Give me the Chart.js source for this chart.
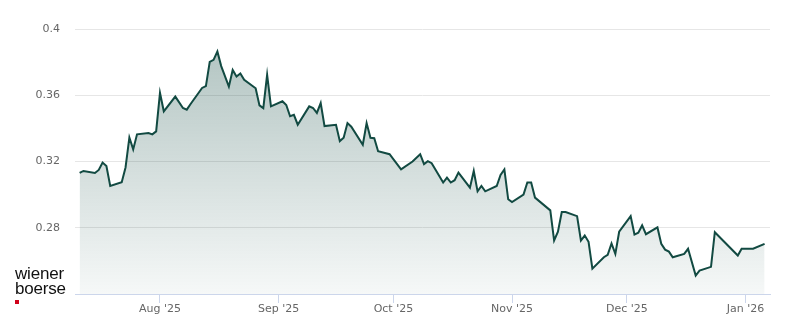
<!DOCTYPE html>
<html>
<head>
<meta charset="utf-8">
<script src="https://cdn.jsdelivr.net/npm/chart.js@4"></script>
<style>
  html, body { margin: 0; padding: 0; background: #fff; }
  #wrap { position: relative; width: 800px; height: 324px; }
  #logo {
    position: absolute; left: 15px; top: 266px;
    font-family: "Liberation Sans", Arial, sans-serif; font-size: 17px;
    line-height: 15px; color: #111; letter-spacing: -0.2px;
  }
  #logo .dot { width: 4px; height: 4px; background: #d0021b; margin-top: 4px; }
</style>
</head>
<body>
<div id="wrap">
  <canvas id="priceChart" width="800" height="324"></canvas>
  <div id="logo">wiener<br>boerse<div class="dot"></div></div>
</div>
<script>
// closing prices (only the turning points of the line)
var dates = [
    '2025-07-11', '2025-07-12', '2025-07-15', '2025-07-16', '2025-07-17', '2025-07-18', '2025-07-19',
    '2025-07-22', '2025-07-23', '2025-07-24', '2025-07-25', '2025-07-26', '2025-07-29', '2025-07-30',
    '2025-07-31', '2025-08-01', '2025-08-02', '2025-08-05', '2025-08-07', '2025-08-08', '2025-08-09',
    '2025-08-12', '2025-08-13', '2025-08-14', '2025-08-15', '2025-08-16', '2025-08-17', '2025-08-19',
    '2025-08-20', '2025-08-21', '2025-08-22', '2025-08-23', '2025-08-26', '2025-08-27', '2025-08-28',
    '2025-08-29', '2025-08-30', '2025-09-02', '2025-09-03', '2025-09-04', '2025-09-05', '2025-09-06',
    '2025-09-09', '2025-09-10', '2025-09-11', '2025-09-12', '2025-09-13', '2025-09-16', '2025-09-17',
    '2025-09-18', '2025-09-19', '2025-09-20', '2025-09-23', '2025-09-24', '2025-09-25', '2025-09-26',
    '2025-09-27', '2025-09-30', '2025-10-03', '2025-10-06', '2025-10-08', '2025-10-09', '2025-10-10',
    '2025-10-11', '2025-10-14', '2025-10-15', '2025-10-16', '2025-10-17', '2025-10-18', '2025-10-21',
    '2025-10-22', '2025-10-23', '2025-10-24', '2025-10-25', '2025-10-28', '2025-10-29', '2025-10-30',
    '2025-10-31', '2025-11-01', '2025-11-04', '2025-11-05', '2025-11-06', '2025-11-07', '2025-11-11',
    '2025-11-12', '2025-11-13', '2025-11-14', '2025-11-15', '2025-11-18', '2025-11-19', '2025-11-20',
    '2025-11-21', '2025-11-22', '2025-11-25', '2025-11-26', '2025-11-27', '2025-11-28', '2025-11-29',
    '2025-12-02', '2025-12-03', '2025-12-04', '2025-12-05', '2025-12-06', '2025-12-09', '2025-12-10',
    '2025-12-11', '2025-12-12', '2025-12-13', '2025-12-16', '2025-12-17', '2025-12-19', '2025-12-20',
    '2025-12-23', '2025-12-24', '2025-12-30', '2025-12-31', '2026-01-03', '2026-01-06'
];
var prices = [
    0.3131, 0.3143, 0.3131, 0.3149, 0.3194, 0.3173, 0.3052,
    0.3075, 0.3164, 0.3345, 0.3273, 0.3364, 0.3372, 0.3364,
    0.3382, 0.3614, 0.3503, 0.3592, 0.3523, 0.3513, 0.3547,
    0.3644, 0.3655, 0.3802, 0.3814, 0.3864, 0.3776, 0.3652,
    0.3753, 0.3713, 0.3731, 0.3693, 0.3642, 0.3539, 0.3522,
    0.3723, 0.3533, 0.3564, 0.3541, 0.3473, 0.3482, 0.3422,
    0.3533, 0.3523, 0.3493, 0.3553, 0.3414, 0.3422, 0.3323,
    0.3343, 0.3432, 0.3410, 0.3301, 0.3432, 0.3343, 0.3341,
    0.3262, 0.3244, 0.3153, 0.3200, 0.3244, 0.3184, 0.3202,
    0.3190, 0.3073, 0.3103, 0.3073, 0.3087, 0.3133, 0.3042,
    0.3143, 0.3020, 0.3052, 0.3020, 0.3052, 0.3119, 0.3152,
    0.2972, 0.2955, 0.3000, 0.3073, 0.3073, 0.2982, 0.2905,
    0.2723, 0.2776, 0.2895, 0.2895, 0.2870, 0.2723, 0.2753,
    0.2715, 0.2553, 0.2622, 0.2636, 0.2705, 0.2642, 0.2776,
    0.2870, 0.2759, 0.2770, 0.2814, 0.2761, 0.2802, 0.2703,
    0.2668, 0.2656, 0.2622, 0.2642, 0.2673, 0.2511, 0.2541,
    0.2564, 0.2773, 0.2632, 0.2673, 0.2673, 0.2703
];
var monthTicks = ['2025-08-01', '2025-09-01', '2025-10-01', '2025-11-01', '2025-12-01', '2026-01-01'];
var monthNames = ['Jan', 'Feb', 'Mar', 'Apr', 'May', 'Jun', 'Jul', 'Aug', 'Sep', 'Oct', 'Nov', 'Dec'];
var yTicks = [0.24, 0.28, 0.32, 0.36, 0.4];

var lineColor = '#124a42';

function toTime(s) {
    return Date.parse(s + 'T00:00:00Z');
}

var points = dates.map(function (d, i) {
    return { x: toTime(d), y: prices[i] };
});

function fillGradient(context) {
    var chart = context.chart;
    var area = chart.chartArea;
    if (!area) return 'rgba(18,74,66,0.2)';
    var g = chart.ctx.createLinearGradient(0, area.top, 0, area.bottom);
    g.addColorStop(0, 'rgba(18,74,66,0.34)');
    g.addColorStop(1, 'rgba(18,74,66,0.04)');
    return g;
}

var chart = new Chart(document.getElementById('priceChart'), {
    type: 'line',
    data: {
        datasets: [{
            data: points,
            borderColor: lineColor,
            borderWidth: 2,
            backgroundColor: fillGradient,
            fill: 'start',
            pointRadius: 0,
            tension: 0
        }]
    },
    options: {
        responsive: false,
        animation: false,
        layout: { padding: { top: 29, right: 30, left: 0, bottom: 0 } },
        plugins: { legend: { display: false }, tooltip: { enabled: false } },
        scales: {
            x: {
                type: 'linear',
                min: Date.UTC(2025, 6, 9, 19),
                max: Date.UTC(2026, 0, 7, 10),
                afterBuildTicks: function (scale) {
                    scale.ticks = monthTicks.map(function (m) { return { value: toTime(m) }; });
                },
                afterFit: function (scale) { scale.height = 30; },
                grid: {
                    drawOnChartArea: false,
                    drawTicks: true,
                    tickLength: 9,
                    color: '#ccd6eb'
                },
                border: { color: '#ccd6eb', width: 1 },
                ticks: {
                    autoSkip: false,
                    maxRotation: 0,
                    padding: 0,
                    color: '#666666',
                    font: { family: 'DejaVu Sans', size: 11 },
                    callback: function (v) {
                        var d = new Date(v);
                        return monthNames[d.getUTCMonth()] + " '" + String(d.getUTCFullYear()).slice(2);
                    }
                }
            },
            y: {
                min: 0.24,
                max: 0.4,
                afterBuildTicks: function (scale) {
                    scale.ticks = yTicks.map(function (v) { return { value: v }; });
                },
                afterFit: function (scale) { scale.width = 75; },
                grid: {
                    drawTicks: false,
                    color: function (ctx) {
                        return ctx.tick && ctx.tick.value < 0.25 ? 'rgba(0,0,0,0)' : '#e6e6e6';
                    }
                },
                border: { display: false },
                ticks: {
                    padding: 15,
                    color: '#666666',
                    font: { family: 'DejaVu Sans', size: 11 },
                    callback: function (v) {
                        if (v < 0.25) return '';
                        return String(Math.round(v * 100) / 100);
                    }
                }
            }
        }
    }
});
</script>
</body>
</html>
